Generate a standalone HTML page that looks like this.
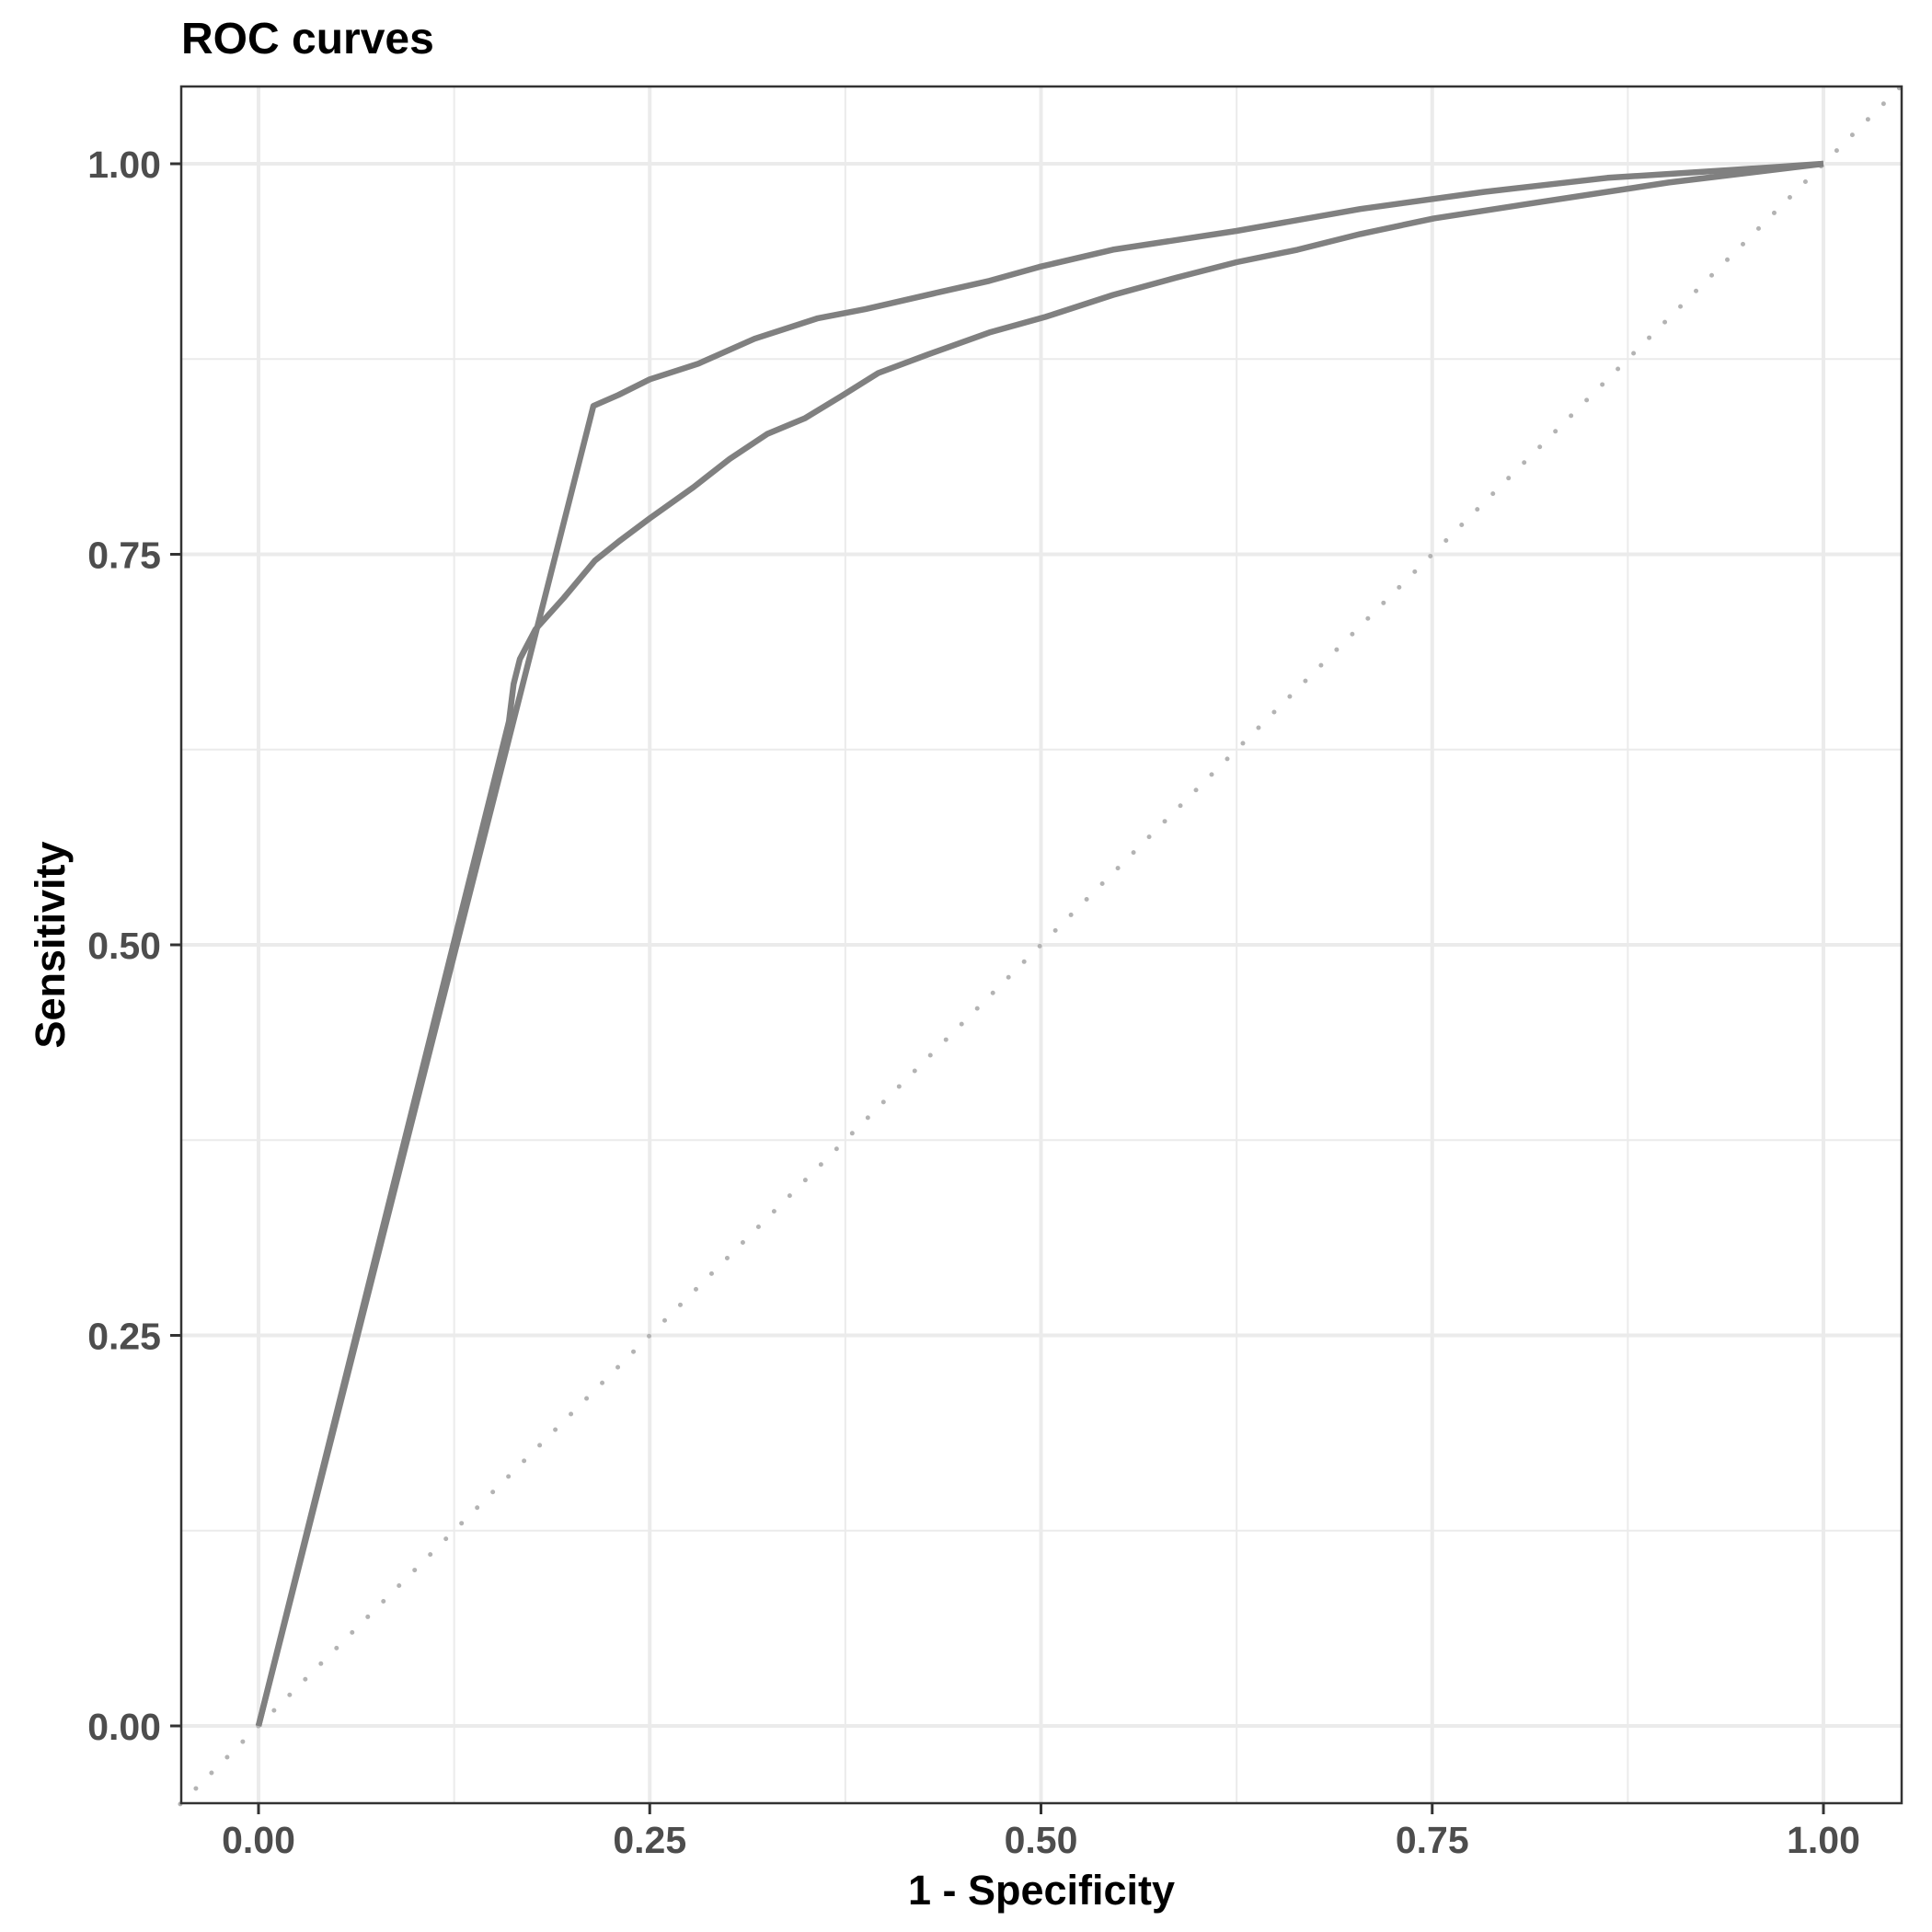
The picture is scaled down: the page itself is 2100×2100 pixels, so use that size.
<!DOCTYPE html>
<html><head><meta charset="utf-8"><style>
html,body{margin:0;padding:0;background:#fff;}
svg{display:block;}
text{font-family:"Liberation Sans",sans-serif;font-weight:bold;}
</style></head><body>
<svg id="chart" width="2100" height="2100" viewBox="0 0 2100 2100" xmlns="http://www.w3.org/2000/svg">
<rect x="0" y="0" width="2100" height="2100" fill="#fff"/>
<g id="grid"></g>
<g id="curves"></g>
<rect x="197" y="94" width="1870" height="1866" fill="none" stroke="#333" stroke-width="2.5"/>
<g id="axes"></g>
<text x="197" y="58" font-size="48" fill="#000">ROC curves</text>
<text x="1132" y="2070" font-size="45" fill="#000" text-anchor="middle">1 - Specificity</text>
<text x="0" y="0" font-size="45" fill="#000" text-anchor="middle" transform="translate(70,1027) rotate(-90)">Sensitivity</text>
</svg>
<script>
const ticks = [0, 0.25, 0.5, 0.75, 1];
const tickLabels = ["0.00", "0.25", "0.50", "0.75", "1.00"];
const minorTicks = [0.125, 0.375, 0.625, 0.875];
const curveAx = [0, 0.214, 0.230, 0.250, 0.281, 0.317, 0.357, 0.388, 0.436, 0.467, 0.499, 0.546, 0.625, 0.704, 0.783, 0.862, 0.941, 1];
const curveAy = [0, 0.845, 0.852, 0.862, 0.872, 0.888, 0.901, 0.907, 0.918, 0.925, 0.934, 0.945, 0.957, 0.971, 0.982, 0.991, 0.996, 1];
const curveBx = [0, 0.160, 0.163, 0.167, 0.177, 0.195, 0.215, 0.230, 0.250, 0.278, 0.301, 0.325, 0.349, 0.372, 0.396, 0.428, 0.467, 0.503, 0.546, 0.586, 0.625, 0.664, 0.704, 0.751, 0.822, 0.901, 1];
const curveBy = [0, 0.643, 0.667, 0.683, 0.702, 0.722, 0.746, 0.758, 0.773, 0.793, 0.811, 0.827, 0.837, 0.851, 0.866, 0.878, 0.892, 0.902, 0.916, 0.927, 0.937, 0.945, 0.955, 0.965, 0.976, 0.988, 1];

const NS = "http://www.w3.org/2000/svg";
const X0 = 281, X1 = 1982, Y0 = 1876, Y1 = 178;
function sx(v){ return X0 + v * (X1 - X0); }
function sy(v){ return Y0 - v * (Y0 - Y1); }
function mk(tag, attrs, parent){
  const e = document.createElementNS(NS, tag);
  for (const k in attrs) e.setAttribute(k, attrs[k]);
  parent.appendChild(e);
  return e;
}
const grid = document.getElementById('grid');
const axes = document.getElementById('axes');
const curves = document.getElementById('curves');
const L = 197, R = 2067, T = 94, B = 1960;

minorTicks.forEach(v => {
  let l = mk('line', {x1: sx(v), x2: sx(v), y1: T, y2: B, stroke: '#ebebeb', 'stroke-width': 2}, grid);
  
  
  l = mk('line', {x1: L, x2: R, y1: sy(v), y2: sy(v), stroke: '#ebebeb', 'stroke-width': 2}, grid);
  
  
});
ticks.forEach((v, i) => {
  let l = mk('line', {x1: sx(v), x2: sx(v), y1: T, y2: B, stroke: '#ebebeb', 'stroke-width': 4}, grid);
  
  
  l = mk('line', {x1: L, x2: R, y1: sy(v), y2: sy(v), stroke: '#ebebeb', 'stroke-width': 4}, grid);
  
  
  let t = mk('line', {x1: sx(v), x2: sx(v), y1: B, y2: B + 12, stroke: '#333', 'stroke-width': 3}, axes);
  
  
  t = mk('line', {x1: L - 12, x2: L, y1: sy(v), y2: sy(v), stroke: '#333', 'stroke-width': 3}, axes);
  
  
  let tx = mk('text', {x: sx(v), y: 2014, 'font-size': 41, fill: '#4d4d4d', 'text-anchor': 'middle'}, axes);
  tx.textContent = tickLabels[i];
  
  
  tx = mk('text', {x: 175, y: sy(v) + 15, 'font-size': 41, fill: '#4d4d4d', 'text-anchor': 'end'}, axes);
  tx.textContent = tickLabels[i];
  
  
});

const diag = mk('line', {x1: sx(-0.05), y1: sy(-0.05), x2: sx(1.05), y2: sy(1.05), stroke: '#b3b3b3', 'stroke-width': 5, 'stroke-dasharray': '0 24', 'stroke-linecap': 'round'}, curves);



function drawCurve(xs, ys, name){
  const pts = xs.map((x, i) => sx(x).toFixed(1) + ',' + sy(ys[i]).toFixed(1)).join(' ');
  const p = mk('polyline', {points: pts, fill: 'none', stroke: '#808080', 'stroke-width': 6.5, 'stroke-linejoin': 'round'}, curves);
  
  
}
drawCurve(curveBx, curveBy, 'roc-curve-b');
drawCurve(curveAx, curveAy, 'roc-curve-a');
</script>
</body></html>
